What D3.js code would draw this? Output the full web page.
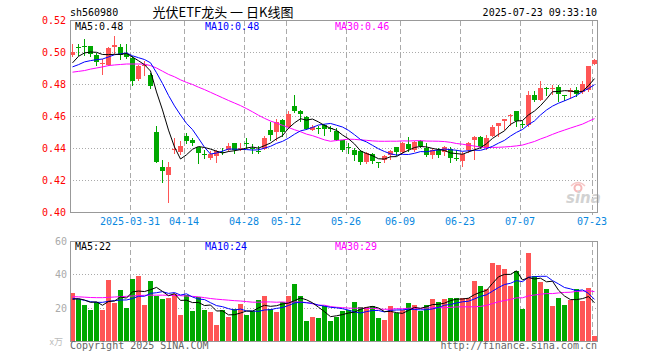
<!DOCTYPE html>
<html><head><meta charset="utf-8">
<script src="https://cdn.jsdelivr.net/npm/d3@7"></script>
<style>
html,body{margin:0;padding:0;background:#fff;}
svg{display:block;}
text{font-family:"DejaVu Sans Mono",monospace;font-size:10px;}
</style>
</head><body>
<svg id="c" width="660" height="360"></svg>
<script>
// ---------------- data ----------------
const year = "2025";
const dates = [
 "03-17","03-18","03-19","03-20","03-21","03-24","03-25","03-26","03-27","03-28","03-31",
 "04-01","04-02","04-03","04-07","04-08","04-09","04-10","04-11","04-14","04-15","04-16","04-17","04-18","04-21","04-22","04-23","04-24","04-25","04-28","04-29","04-30",
 "05-06","05-07","05-08","05-09","05-12","05-13","05-14","05-15","05-16","05-19","05-20","05-21","05-22","05-23","05-26","05-27","05-28","05-29","05-30",
 "06-03","06-04","06-05","06-06","06-09","06-10","06-11","06-12","06-13","06-16","06-17","06-18","06-19","06-20","06-23","06-24","06-25","06-26","06-27","06-30",
 "07-01","07-02","07-03","07-04","07-07","07-08","07-09","07-10","07-11","07-14","07-15","07-16","07-17","07-18","07-21","07-22","07-23"
];
const open = [
 0.4980,0.5032,0.5037,0.5035,0.4980,0.4930,0.4917,0.5031,0.5031,0.4988,
 0.4963,0.4832,0.4919,0.4859,0.4501,0.4281,0.4231,0.4390,0.4377,0.4475,
 0.4450,0.4404,0.4362,0.4338,0.4350,0.4372,0.4385,0.4430,0.4398,0.4432,
 0.4402,0.4382,0.4396,0.4515,0.4498,0.4577,0.4531,0.4665,0.4630,0.4594,
 0.4515,0.4527,0.4546,0.4527,0.4504,0.4448,0.4408,0.4385,0.4379,0.4310,
 0.4365,0.4312,0.4327,0.4358,0.4406,0.4373,0.4427,0.4385,0.4442,0.4400,
 0.4358,0.4385,0.4373,0.4394,0.4340,0.4317,0.4385,0.4448,0.4469,0.4400,
 0.4477,0.4535,0.4567,0.4602,0.4633,0.4548,0.4546,0.4733,0.4702,0.4777,
 0.4773,0.4781,0.4731,0.4748,0.4765,0.4748,0.4760,0.4927
];
const high = [
 0.5050,0.5050,0.5080,0.5035,0.4995,0.4956,0.5031,0.5102,0.5052,0.5052,
 0.4973,0.4921,0.4942,0.4867,0.4538,0.4325,0.4314,0.4460,0.4446,0.4492,
 0.4460,0.4404,0.4390,0.4380,0.4390,0.4400,0.4430,0.4430,0.4430,0.4460,
 0.4427,0.4410,0.4477,0.4560,0.4583,0.4580,0.4630,0.4733,0.4640,0.4602,
 0.4542,0.4535,0.4552,0.4535,0.4525,0.4452,0.4430,0.4400,0.4385,0.4373,
 0.4369,0.4312,0.4358,0.4385,0.4406,0.4435,0.4469,0.4442,0.4452,0.4431,
 0.4400,0.4400,0.4415,0.4406,0.4385,0.4373,0.4435,0.4477,0.4477,0.4483,
 0.4546,0.4556,0.4581,0.4615,0.4633,0.4567,0.4754,0.4754,0.4817,0.4781,
 0.4796,0.4796,0.4733,0.4775,0.4781,0.4817,0.4915,0.4956
];
const low = [
 0.4977,0.4980,0.4980,0.4977,0.4920,0.4865,0.4917,0.4994,0.4956,0.4965,
 0.4791,0.4828,0.4859,0.4776,0.4310,0.4190,0.4065,0.4367,0.4363,0.4430,
 0.4420,0.4308,0.4338,0.4330,0.4310,0.4365,0.4380,0.4370,0.4385,0.4400,
 0.4370,0.4370,0.4394,0.4450,0.4450,0.4477,0.4525,0.4623,0.4567,0.4519,
 0.4510,0.4494,0.4483,0.4504,0.4448,0.4380,0.4370,0.4323,0.4302,0.4306,
 0.4306,0.4280,0.4310,0.4331,0.4358,0.4369,0.4379,0.4379,0.4406,0.4352,
 0.4338,0.4344,0.4358,0.4310,0.4327,0.4290,0.4373,0.4331,0.4400,0.4394,
 0.4473,0.4477,0.4519,0.4546,0.4540,0.4531,0.4540,0.4692,0.4698,0.4729,
 0.4740,0.4692,0.4698,0.4713,0.4723,0.4744,0.4754,0.4925
];
const close = [
 0.5000,0.5030,0.5035,0.4990,0.4935,0.4932,0.5025,0.5046,0.4983,0.4969,
 0.4818,0.4911,0.4921,0.4787,0.4314,0.4256,0.4281,0.4392,0.4413,0.4446,
 0.4429,0.4367,0.4360,0.4365,0.4380,0.4370,0.4415,0.4385,0.4400,0.4430,
 0.4400,0.4380,0.4465,0.4480,0.4562,0.4498,0.4615,0.4630,0.4610,0.4519,
 0.4531,0.4525,0.4519,0.4525,0.4452,0.4385,0.4406,0.4358,0.4310,0.4369,
 0.4317,0.4310,0.4348,0.4383,0.4373,0.4431,0.4394,0.4435,0.4415,0.4358,
 0.4385,0.4358,0.4406,0.4338,0.4338,0.4365,0.4431,0.4469,0.4406,0.4463,
 0.4531,0.4556,0.4581,0.4608,0.4567,0.4546,0.4733,0.4702,0.4775,0.4775,
 0.4775,0.4738,0.4729,0.4765,0.4738,0.4802,0.4915,0.4948
];
// volume, unit 万
const volume = [
 28.8,25.2,21.6,18.6,23.2,18.6,36.6,23,30.6,20,
 37.2,39,21.6,36,27,25.2,26,28,15.6,27.6,
 18,26.6,18.6,17.2,9.6,18.6,14.4,19.2,22.2,15.6,
 18,24.4,27,19,17.4,23.4,27,34.2,27,12,
 14.4,13.8,20.8,12,14.6,18,18.6,23.4,20.4,20.4,
 21,13.8,12.6,21,16.8,18.6,22.8,21.6,18.2,21.6,
 25.2,23.4,25.2,25.8,25.8,25.8,25.8,36,33,31.2,
 46.8,45.6,43.2,33,42,19.2,52.8,39,35.4,31.2,
 21,25.8,21.6,24.6,31.2,24,31.8,3
];
// moving-average values at the start of the window (history before 03-17 not shown)
const priceMa5Lead = [0.4932,0.4973,0.4994,0.5000];
const priceMa10Lead = [0.4907,0.4921,0.4938,0.4946,0.4952,0.4956,0.4969,0.4983,0.4988];
const priceMa30Lead = [0.4874,0.4879,0.4884,0.4893,0.4900,0.4907,0.4915,0.4919,0.4922,0.4925,
 0.4925,0.4925,0.4924,0.4915,0.4900,0.4880,0.4860,0.4845,0.4826,0.4810,
 0.4797,0.4780,0.4765,0.4748,0.4731,0.4714,0.4697,0.4681,0.4665];
const volMa5Lead = [25.0,25.4,24.6,23.2];
const volMa10Lead = [25.6,25.2,24.4,23.6,23.2,23.2,23.8,24.2,24.6];
const volMa30Lead = [26.6,26.5,26.3,26.1,26.0,26.0,26.2,26.4,26.6,26.8,
 27.0,27.3,27.4,27.5,27.5,27.5,27.4,27.3,27.2,27.0,
 26.8,26.5,26.0,25.5,25.1,24.8,24.5,24.2,24.0];

const priceTicks = [0.52,0.50,0.48,0.46,0.44,0.42,0.40];
const volTicks = [60,40,20];
const tickDates = ["03-31","04-14","04-28","05-12","05-26","06-09","06-23","07-07","07-23"];
const tickLabels = ["2025-03-31","04-14","04-28","05-12","05-26","06-09","06-23","07-07","07-23"];
const code = "sh560980";
const title = "光伏ETF龙头 一 日K线图";
const stamp = "2025-07-23 09:33:10";
const priceMaLabels = ["MA5:0.48","MA10:0.48","MA30:0.46"];
const volMaLabels = ["MA5:22","MA10:24","MA30:29"];

// ---------------- drawing ----------------
const RED = "#ff5555", GREEN = "#00a800", GRID = "#aaaaaa", BORDER = "#999999";
const MA_COLORS = ["#000000","#0000ff","#ff00ff"];
const L = 70, R = 597, PT = 20, PB = 212, VT = 241, VB = 341;

const svg = d3.select("#c");
const x = d3.scaleBand().domain(dates).range([L, R]).paddingInner(1/6).paddingOuter(0);
const yP = d3.scaleLinear().domain([0.40, 0.52]).range([PB, PT]);
const yV = d3.scaleLinear().domain([0, 60]).range([VB, VT]);
const px = d => Math.round(x(d));

function movingAvg(arr, n, lead){
  return arr.map((_, i) => i < n - 1 ? lead[i] : d3.mean(arr.slice(i - n + 1, i + 1)));
}
const up = close.map((c, i) => c > open[i]);

// clip paths
const defs = svg.append("defs");
defs.append("clipPath").attr("id","cp").append("rect").attr("x",L).attr("y",PT).attr("width",R-L).attr("height",PB-PT);
defs.append("clipPath").attr("id","cv").append("rect").attr("x",L).attr("y",VT).attr("width",R-L).attr("height",VB-VT);

// grid lines
const grid = svg.append("g").attr("shape-rendering","crispEdges");
priceTicks.filter(v => v < 0.52 && v > 0.40).forEach(v => {
  const yy = Math.round(yP(v)) + 0.5;
  grid.append("line").attr("x1",L).attr("x2",R).attr("y1",yy).attr("y2",yy)
    .attr("stroke",GRID).attr("stroke-dasharray","1,2");
});
volTicks.filter(v => v < 60).forEach(v => {
  const yy = Math.round(yV(v)) + 0.5;
  grid.append("line").attr("x1",L).attr("x2",R).attr("y1",yy).attr("y2",yy)
    .attr("stroke",GRID).attr("stroke-dasharray","1,2");
});
tickDates.forEach(d => {
  const xx = px(d) + 0.5;
  grid.append("line").attr("x1",xx).attr("x2",xx).attr("y1",PT+1).attr("y2",PB)
    .attr("stroke",GRID).attr("stroke-dasharray","5,3");
  grid.append("line").attr("x1",xx).attr("x2",xx).attr("y1",VT+1).attr("y2",VB)
    .attr("stroke",GRID).attr("stroke-dasharray","5,3");
  grid.append("line").attr("x1",xx).attr("x2",xx).attr("y1",PB).attr("y2",PB+3)
    .attr("stroke",GRID);
});

// sina watermark
const wm = svg.append("g");
wm.append("circle").attr("cx",578).attr("cy",188).attr("r",3.5).attr("fill","none").attr("stroke","#f6b8b8").attr("stroke-width",2);
wm.append("path").attr("d","M571,186 q7,-7 14,0").attr("fill","none").attr("stroke","#f6c8c8").attr("stroke-width",1.5);
wm.append("text").attr("x",566).attr("y",203).text("sina")
  .style("font-family","DejaVu Sans").style("font-size","15px").style("font-weight","bold")
  .style("font-style","italic").attr("fill","#d2d2d2");

// candles
const cg = svg.append("g").attr("shape-rendering","crispEdges");
dates.forEach((d, i) => {
  const col = up[i] ? RED : GREEN;
  const xx = px(d);
  cg.append("line").attr("x1",xx+2.5).attr("x2",xx+2.5)
    .attr("y1",Math.round(yP(high[i]))).attr("y2",Math.round(yP(low[i]))+1)
    .attr("stroke",col);
  const yt = Math.round(yP(Math.max(open[i], close[i])));
  const yb = Math.round(yP(Math.min(open[i], close[i])));
  cg.append("rect").attr("x",xx).attr("y",yt).attr("width",x.bandwidth())
    .attr("height",Math.max(1, yb - yt)).attr("fill",col);
});

// volume bars
const vg = svg.append("g").attr("shape-rendering","crispEdges");
dates.forEach((d, i) => {
  const yy = Math.round(yV(volume[i]));
  vg.append("rect").attr("x",px(d)).attr("y",yy).attr("width",x.bandwidth())
    .attr("height",VB - yy).attr("fill",up[i] ? RED : GREEN);
});

// moving average lines
const pMAs = [movingAvg(close,5,priceMa5Lead), movingAvg(close,10,priceMa10Lead), movingAvg(close,30,priceMa30Lead)];
const vMAs = [movingAvg(volume,5,volMa5Lead), movingAvg(volume,10,volMa10Lead), movingAvg(volume,30,volMa30Lead)];
const lineP = d3.line().x((v,i) => px(dates[i]) + 2.5).y(v => yP(v));
const lineV = d3.line().x((v,i) => px(dates[i]) + 2.5).y(v => yV(v));
[2,1,0].forEach(k => {
  svg.append("path").attr("d",lineP(pMAs[k])).attr("fill","none").attr("stroke",MA_COLORS[k])
    .attr("stroke-width",1).attr("clip-path","url(#cp)");
  svg.append("path").attr("d",lineV(vMAs[k])).attr("fill","none").attr("stroke",MA_COLORS[k])
    .attr("stroke-width",1).attr("clip-path","url(#cv)");
});

// borders
const bg = svg.append("g").attr("shape-rendering","crispEdges");
bg.append("rect").attr("x",L+0.5).attr("y",PT+0.5).attr("width",R-L).attr("height",PB-PT)
  .attr("fill","none").attr("stroke",BORDER);
bg.append("rect").attr("x",L+0.5).attr("y",VT+0.5).attr("width",R-L).attr("height",VB-VT)
  .attr("fill","none").attr("stroke",BORDER);

// axis labels
priceTicks.forEach(v => {
  svg.append("text").attr("x",66).attr("y",Math.round(yP(v))+4).attr("text-anchor","end")
    .attr("fill","#ff0000").text(v.toFixed(2));
});
volTicks.forEach(v => {
  svg.append("text").attr("x",67).attr("y",Math.round(yV(v))+4).attr("text-anchor","end")
    .attr("fill","#aaaaaa").text(v);
});
svg.append("text").attr("x",63).attr("y",345).attr("text-anchor","end").attr("fill","#bbbbbb")
  .style("font-family","'Noto Sans CJK SC',sans-serif").style("font-size","9px").text("x万");
tickDates.forEach((d, i) => {
  svg.append("text").attr("x",px(d)).attr("y",225).attr("text-anchor","middle")
    .attr("fill","#0a88e0").text(tickLabels[i]);
});

// header
svg.append("text").attr("x",70).attr("y",16).attr("fill","#000").text(code);
svg.append("text").attr("x",223).attr("y",17).attr("text-anchor","middle").attr("fill","#000")
  .style("font-family","'Noto Sans CJK SC',sans-serif").style("font-size","13px").text(title);
svg.append("text").attr("x",597).attr("y",16).attr("text-anchor","end").attr("fill","#000").text(stamp);

// MA legends
const legX = [75, 205, 335];
priceMaLabels.forEach((t, k) => {
  svg.append("text").attr("x",legX[k]).attr("y",30).attr("fill",MA_COLORS[k]).text(t);
});
volMaLabels.forEach((t, k) => {
  svg.append("text").attr("x",legX[k]).attr("y",250).attr("fill",MA_COLORS[k]).text(t);
});

// footer
svg.append("text").attr("x",70).attr("y",349).attr("fill","#666").text("Copyright 2025 SINA.COM");
svg.append("text").attr("x",597).attr("y",349).attr("text-anchor","end").attr("fill","#666").text("http://finance.sina.com.cn");
</script>
</body></html>
